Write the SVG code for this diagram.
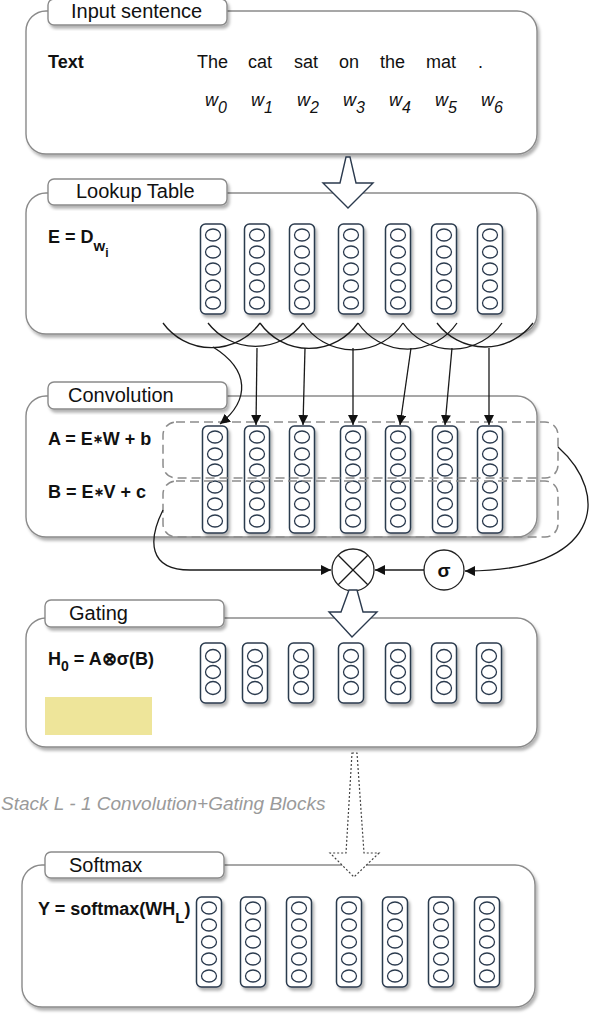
<svg xmlns="http://www.w3.org/2000/svg" xmlns:xlink="http://www.w3.org/1999/xlink" width="602" height="1024" viewBox="0 0 602 1024">
<style>
  text { font-family: "Liberation Sans", Arial, sans-serif; fill: #111; }
  .box { fill: #fff; stroke: #8a8a8a; stroke-width: 1.4; filter: url(#shadow); }
  .tab { fill: #fff; stroke: #8a8a8a; stroke-width: 1.4; filter: url(#shadow); }
  .title { font-size: 20px; }
  .title2 { font-size: 20px; }
  .word { font-size: 18px; }
  .w { font-size: 18px; font-style: italic; }
  .sub { font-size: 16px; font-style: italic; }
  .eq { font-size: 18px; font-weight: bold; }
  .colrect { fill: #fff; stroke: #2b3a4e; stroke-width: 1.5; }
  .cell { fill: #fff; stroke: #2b3a4e; stroke-width: 1.3; }
  .dash { fill: none; stroke: #8c8c8c; stroke-width: 1.5; stroke-dasharray: 9 5; }
  .conn { fill: none; stroke: #1a1a1a; stroke-width: 1.3; }
  .arrow { fill: none; stroke: #1a1a1a; stroke-width: 1.3; marker-end: url(#ah); }
  .block { fill: #fff; stroke: #2b3a4e; stroke-width: 1.4; stroke-linejoin: miter; }
  .dotted { fill: #fff; stroke: #444; stroke-width: 1.2; stroke-dasharray: 2 2; }
  .op { fill: #fff; stroke: #222; stroke-width: 1.3; }
</style>
<defs>
  <filter id="shadow" x="-10%" y="-10%" width="130%" height="130%">
    <feDropShadow dx="2" dy="3" stdDeviation="1.8" flood-color="#000" flood-opacity="0.3"/>
  </filter>
  <marker id="ah" markerUnits="userSpaceOnUse" markerWidth="11" markerHeight="11" refX="10" refY="5" orient="auto">
    <path d="M0,0 L10,5 L0,10 z" fill="#111"/>
  </marker>
  <g id="col5">
    <rect class="colrect" x="-12.5" y="0" width="25" height="90" rx="5"/>
    <ellipse class="cell" cx="0" cy="11" rx="7.5" ry="6"/>
    <ellipse class="cell" cx="0" cy="28" rx="7.5" ry="6"/>
    <ellipse class="cell" cx="0" cy="45" rx="7.5" ry="6"/>
    <ellipse class="cell" cx="0" cy="62" rx="7.5" ry="6"/>
    <ellipse class="cell" cx="0" cy="79" rx="7.5" ry="6"/>
  </g>
  <g id="col6">
    <rect class="colrect" x="-12.5" y="0" width="25" height="107" rx="5"/>
    <ellipse class="cell" cx="0" cy="11" rx="7.5" ry="6"/>
    <ellipse class="cell" cx="0" cy="28" rx="7.5" ry="6"/>
    <ellipse class="cell" cx="0" cy="44" rx="7.5" ry="6"/>
    <ellipse class="cell" cx="0" cy="61" rx="7.5" ry="6"/>
    <ellipse class="cell" cx="0" cy="78" rx="7.5" ry="6"/>
    <ellipse class="cell" cx="0" cy="95" rx="7.5" ry="6"/>
  </g>
  <g id="col3">
    <rect class="colrect" x="-12.5" y="0" width="25" height="60" rx="5"/>
    <ellipse class="cell" cx="0" cy="13" rx="7.5" ry="6.5"/>
    <ellipse class="cell" cx="0" cy="29" rx="7.5" ry="6.5"/>
    <ellipse class="cell" cx="0" cy="45" rx="7.5" ry="6.5"/>
  </g>
</defs>

<rect width="602" height="1024" fill="#fff"/>

<!-- Input sentence -->
<g id="input-sentence">
  <rect class="box" x="26" y="11" width="511" height="143" rx="20"/>
  <rect class="tab" x="48" y="-1" width="179" height="26" rx="6"/>
  <text class="title" x="71" y="18">Input sentence</text>
  <text class="eq" x="48" y="68">Text</text>
  <text class="word" x="197" y="68">The</text>
  <text class="word" x="248" y="68">cat</text>
  <text class="word" x="294" y="68">sat</text>
  <text class="word" x="339" y="68">on</text>
  <text class="word" x="380" y="68">the</text>
  <text class="word" x="426" y="68">mat</text>
  <text class="word" x="478" y="68">.</text>
  <text class="w" x="205" y="106">w<tspan class="sub" dy="7">0</tspan></text>
  <text class="w" x="251" y="106">w<tspan class="sub" dy="7">1</tspan></text>
  <text class="w" x="297" y="106">w<tspan class="sub" dy="7">2</tspan></text>
  <text class="w" x="343" y="106">w<tspan class="sub" dy="7">3</tspan></text>
  <text class="w" x="389" y="106">w<tspan class="sub" dy="7">4</tspan></text>
  <text class="w" x="435" y="106">w<tspan class="sub" dy="7">5</tspan></text>
  <text class="w" x="481" y="106">w<tspan class="sub" dy="7">6</tspan></text>
</g>

<!-- Lookup Table -->
<g id="lookup-table">
  <rect class="box" x="26" y="193" width="511" height="141" rx="20"/>
  <rect class="tab" x="48" y="179" width="179" height="26" rx="6"/>
  <text class="title" x="76" y="198">Lookup Table</text>
  <text class="eq" x="48" y="243">E = D<tspan font-size="15" dy="8">w</tspan><tspan font-size="12" dy="6">i</tspan></text>
  <g filter="url(#shadow)">
    <use href="#col5" x="213" y="224"/>
    <use href="#col5" x="257" y="224"/>
    <use href="#col5" x="302" y="224"/>
    <use href="#col5" x="351" y="224"/>
    <use href="#col5" x="398" y="224"/>
    <use href="#col5" x="444" y="224"/>
    <use href="#col5" x="490" y="224"/>
  </g>
</g>

<!-- Convolution -->
<g id="convolution">
  <rect class="box" x="26" y="396" width="511" height="141" rx="20"/>
  <rect class="tab" x="48" y="382" width="179" height="27" rx="6"/>
  <text class="title" x="68" y="402">Convolution</text>
  <text class="eq" x="48" y="445">A = E<tspan font-size="12" dy="-2">∗</tspan><tspan dy="2">W + b</tspan></text>
  <text class="eq" x="48" y="498">B = E<tspan font-size="12" dy="-2">∗</tspan><tspan dy="2">V + c</tspan></text>
  <g filter="url(#shadow)">
    <use href="#col6" x="215" y="426"/>
    <use href="#col6" x="257" y="426"/>
    <use href="#col6" x="302" y="426"/>
    <use href="#col6" x="353" y="426"/>
    <use href="#col6" x="398" y="426"/>
    <use href="#col6" x="445" y="426"/>
    <use href="#col6" x="490" y="426"/>
  </g>
  <rect class="dash" x="163" y="422" width="395" height="56" rx="13"/>
  <rect class="dash" x="163" y="481" width="395" height="56" rx="13"/>
</g>

<!-- Operators -->
<g id="multiply">
  <circle class="op" cx="353" cy="570" r="21"/>
  <line class="conn" x1="338.2" y1="555.2" x2="367.8" y2="584.8"/>
  <line class="conn" x1="367.8" y1="555.2" x2="338.2" y2="584.8"/>
</g>
<g id="sigma">
  <circle class="op" cx="444" cy="570" r="20"/>
  <text x="444" y="577" font-size="19" font-weight="bold" text-anchor="middle">σ</text>
</g>

<!-- Gating -->
<g id="gating">
  <rect class="box" x="26" y="618" width="511" height="129" rx="20"/>
  <rect class="tab" x="45" y="600" width="179" height="27" rx="6"/>
  <text class="title2" x="69" y="620">Gating</text>
  <text class="eq" x="48" y="665" font-size="17">H<tspan font-size="14" dy="6">0</tspan><tspan dy="-6"> = A⊗σ(B)</tspan></text>
  <rect x="45" y="697" width="107" height="38" fill="#eee59a"/>
  <g filter="url(#shadow)">
    <use href="#col3" x="213" y="643"/>
    <use href="#col3" x="255" y="643"/>
    <use href="#col3" x="301" y="643"/>
    <use href="#col3" x="351" y="643"/>
    <use href="#col3" x="398" y="643"/>
    <use href="#col3" x="444" y="643"/>
    <use href="#col3" x="489" y="643"/>
  </g>
</g>

<!-- Stack label -->
<g id="stack-label">
  <text x="1" y="810" font-size="19" font-style="italic" style="fill:#9a9a9a">Stack L - 1 Convolution+Gating Blocks</text>
</g>

<!-- Softmax -->
<g id="softmax">
  <rect class="box" x="22" y="865" width="513" height="142" rx="20"/>
  <rect class="tab" x="45" y="852" width="179" height="26" rx="6"/>
  <text class="title2" x="69" y="872">Softmax</text>
  <text class="eq" x="38" y="915">Y = softmax(WH<tspan font-size="15" dy="8">L</tspan><tspan dy="-8">)</tspan></text>
  <g filter="url(#shadow)">
    <use href="#col5" x="209" y="897"/>
    <use href="#col5" x="253" y="897"/>
    <use href="#col5" x="299" y="897"/>
    <use href="#col5" x="349" y="897"/>
    <use href="#col5" x="395" y="897"/>
    <use href="#col5" x="441" y="897"/>
    <use href="#col5" x="487" y="897"/>
  </g>
</g>

<!-- Connectors -->
<g id="connectors">
  <!-- block arrows -->
  <polygon class="block" points="346,157 350,157 356,183 373,183 348,208 323,183 340,183"/>
  <polygon class="block" points="349,590 357,590 363,612 377,612 352,637 329,612 341,612"/>
  <polygon class="dotted" points="352,753 357,753 364,853 379,853 354,877 330,853 346,853"/>
  <!-- receptive field arcs -->
  <path class="conn" d="M163,323 A60,60 0 0 0 260,323"/>
  <path class="conn" d="M208,323 A60,60 0 0 0 303,323"/>
  <path class="conn" d="M260,323 A60,60 0 0 0 358,323"/>
  <path class="conn" d="M303,323 A60,60 0 0 0 403,323"/>
  <path class="conn" d="M358,323 A60,60 0 0 0 457,323"/>
  <path class="conn" d="M403,323 A60,60 0 0 0 502,323"/>
  <path class="conn" d="M437,323 A60,60 0 0 0 533,323"/>
  <!-- arcs to convolution -->
  <path class="arrow" d="M213,347 C250,370 250,400 220,424"/>
  <path class="arrow" d="M257,348 L256,425"/>
  <path class="arrow" d="M305,348 L303,425"/>
  <path class="arrow" d="M353,348 L353,425"/>
  <path class="arrow" d="M411,348 L400,425"/>
  <path class="arrow" d="M452,348 L445,425"/>
  <path class="arrow" d="M489,348 L489,425"/>
  <!-- gating connectors -->
  <path class="arrow" d="M163,510 C148,540 148,570 190,570 L331,570"/>
  <path class="arrow" d="M558,447 C612,495 600,572 465,571"/>
  <path class="arrow" d="M424,570 L375,570"/>
</g>
</svg>
